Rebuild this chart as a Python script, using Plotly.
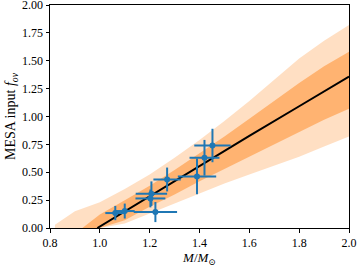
import plotly.graph_objects as go

# Fitted relation (black line)
line_m = [0.99, 1.2, 1.4, 1.6, 1.8, 2.0]
line_f = [0.0, 0.285, 0.56, 0.826, 1.092, 1.358]

# Model cloud extent
cloud_m = [0.82, 0.9, 1.0, 1.1, 1.2, 1.3, 1.4, 1.5, 1.6, 1.7, 1.8, 1.9, 2.0]
outer_lo = [0.0, 0.0, 0.0, 0.04, 0.13, 0.22, 0.31, 0.40, 0.48, 0.56, 0.64, 0.73, 0.82]
outer_hi = [0.03, 0.15, 0.23, 0.35, 0.48, 0.63, 0.79, 0.96, 1.14, 1.33, 1.52, 1.68, 1.82]
inner_m = [0.93, 1.0, 1.1, 1.2, 1.3, 1.4, 1.5, 1.6, 1.7, 1.8, 1.9, 2.0]
inner_lo = [0.0, 0.0, 0.07, 0.19, 0.30, 0.42, 0.53, 0.64, 0.75, 0.86, 0.97, 1.07]
inner_hi = [0.0, 0.12, 0.25, 0.38, 0.52, 0.67, 0.82, 0.98, 1.14, 1.30, 1.45, 1.58]

# Observed stars
star_m = [1.062, 1.100, 1.207, 1.203, 1.223, 1.270, 1.390, 1.420, 1.452]
star_f = [0.134, 0.152, 0.308, 0.265, 0.143, 0.435, 0.463, 0.630, 0.740]
star_merr = [0.040, 0.040, 0.063, 0.060, 0.087, 0.055, 0.077, 0.060, 0.073]
star_ferr = [0.064, 0.067, 0.110, 0.080, 0.090, 0.107, 0.160, 0.160, 0.150]

orange = "255,127,14"
fig = go.Figure()
fig.add_trace(go.Scatter(x=cloud_m, y=outer_lo, mode="lines", line=dict(width=0), showlegend=False, hoverinfo="skip"))
fig.add_trace(go.Scatter(x=cloud_m, y=outer_hi, mode="lines", line=dict(width=0), fill="tonexty",
                         fillcolor=f"rgba({orange},0.25)", showlegend=False, hoverinfo="skip"))
fig.add_trace(go.Scatter(x=inner_m, y=inner_lo, mode="lines", line=dict(width=0), showlegend=False, hoverinfo="skip"))
fig.add_trace(go.Scatter(x=inner_m, y=inner_hi, mode="lines", line=dict(width=0), fill="tonexty",
                         fillcolor=f"rgba({orange},0.45)", showlegend=False, hoverinfo="skip"))
fig.add_trace(go.Scatter(x=line_m, y=line_f, mode="lines", line=dict(color="black", width=2), showlegend=False))
fig.add_trace(go.Scatter(x=star_m, y=star_f, mode="markers",
                         marker=dict(color="#1f77b4", size=6),
                         error_x=dict(type="data", array=star_merr, color="#1f77b4", thickness=2, width=0),
                         error_y=dict(type="data", array=star_ferr, color="#1f77b4", thickness=2, width=0),
                         showlegend=False))

family = "Liberation Serif, DejaVu Serif, serif"
font = dict(family=family, size=12, color="black")
axis_common = dict(showline=True, linecolor="black", linewidth=1, mirror=True, ticks="outside",
                   ticklen=3.5, tickwidth=0.8, tickcolor="black", showgrid=False, zeroline=False,
                   tickfont=font, automargin=False, ticklabeloverflow="allow")
fig.update_xaxes(range=[0.8, 2.0], tickvals=[0.8, 1.0, 1.2, 1.4, 1.6, 1.8, 2.0], tickformat=".1f",
                 title=dict(text="<i>M</i>/<i>M</i><sub>⊙</sub>", font=dict(family=family, size=13, color="black"), standoff=3),
                 **axis_common)
fig.update_yaxes(range=[0, 2.0], tickvals=[0, 0.25, 0.5, 0.75, 1.0, 1.25, 1.5, 1.75, 2.0], tickformat=".2f",
                 title=dict(text="MESA input <i>f</i><sub><i>ov</i></sub>", font=dict(family=family, size=14, color="black"), standoff=3),
                 **axis_common)
fig.update_layout(width=357, height=267, margin=dict(l=50, r=8, t=5, b=39),
                  plot_bgcolor="white", paper_bgcolor="white", font=font)
fig.write_html("out.html", config={"displayModeBar": False},
               post_script="document.body.style.margin='0';document.body.style.overflow='hidden';")
